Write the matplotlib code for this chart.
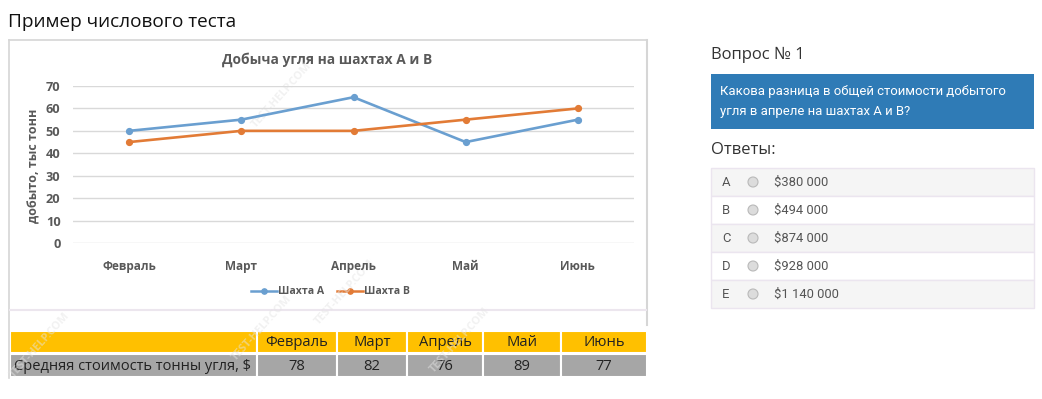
import matplotlib.pyplot as plt
from matplotlib.patches import Rectangle, Circle
from matplotlib.lines import Line2D

# data
months = ["Февраль", "Март", "Апрель", "Май", "Июнь"]
mine_a = [50, 55, 65, 45, 55]
mine_b = [45, 50, 50, 55, 60]
price_per_ton = [78, 82, 76, 89, 77]
answer_letters = ["A", "B", "C", "D", "E"]
answer_values = ["$380 000", "$494 000", "$874 000", "$928 000", "$1 140 000"]

FONT = ["Open Sans", "DejaVu Sans"]
ROBOTO = ["Roboto", "DejaVu Sans"]
COL_A = "#6a9fd0"
COL_B = "#e27b36"
W, H = 1042, 399

fig = plt.figure(figsize=(W / 100, H / 100), dpi=100)
fig.patch.set_facecolor("white")

# background axes in pixel coordinates
bg = fig.add_axes([0, 0, 1, 1], zorder=0)
bg.set_xlim(0, W)
bg.set_ylim(H, 0)
bg.axis("off")

bg.text(8, 22, "Пример числового теста", fontsize=13.7, family=FONT,
        color="#111111", va="center", ha="left")

# chart frame
frame = "#d6d6d6"
bg.add_line(Line2D([9, 647], [40, 40], color=frame, lw=1.2))
bg.add_line(Line2D([9, 9], [40, 378], color=frame, lw=1.2))
bg.add_line(Line2D([647, 647], [40, 325], color=frame, lw=1.5))
bg.add_line(Line2D([10, 646], [310, 310], color="#ece6ee", lw=1.5))

bg.text(327, 60, "Добыча угля на шахтах А и В", fontsize=9.9, family=FONT,
        fontweight="bold", color="#595959", ha="center", va="center")

# legend
bg.add_line(Line2D([251, 277], [291, 291], color=COL_A, lw=1.8))
bg.plot([264], [291], "o", color=COL_A, markersize=3.8)
bg.text(278, 291, "Шахта А", fontsize=7.6, family=FONT, fontweight="bold",
        color="#595959", va="center")
bg.add_line(Line2D([337, 363], [291, 291], color=COL_B, lw=1.8))
bg.plot([350], [291], "o", color=COL_B, markersize=3.8)
bg.text(364, 291, "Шахта В", fontsize=7.6, family=FONT, fontweight="bold",
        color="#595959", va="center")

# table under the chart
col_edges = [10, 257, 337, 407, 483, 561, 647]
for i in range(6):
    x0, x1 = col_edges[i], col_edges[i + 1]
    bg.add_patch(Rectangle((x0, 331), x1 - x0, 22, facecolor="#ffc000",
                           edgecolor="white", lw=1.5))
    bg.add_patch(Rectangle((x0, 354), x1 - x0, 23, facecolor="#a6a6a6",
                           edgecolor="white", lw=1.5))
for i, m in enumerate(months):
    cx = (col_edges[i + 1] + col_edges[i + 2]) / 2
    bg.text(cx, 342.5, m, fontsize=10.6, family=FONT, color="#222222",
            ha="center", va="center")
    bg.text(cx, 366, str(price_per_ton[i]), fontsize=10.6, family=FONT,
            color="#222222", ha="center", va="center")
bg.text(14, 366, "Средняя стоимость тонны угля, $", fontsize=10.5,
        family=FONT, color="#222222", ha="left", va="center")

# faint watermarks
for (wx, wy) in [(282, 95), (262, 328), (345, 292), (40, 345), (460, 340)]:
    bg.text(wx, wy, "TEST-HELP.COM", fontsize=8, family=FONT,
            fontweight="bold", color="#e4e4e4", alpha=0.5, rotation=48,
            ha="center", va="center", zorder=5)

# right panel
bg.text(711, 55, "Вопрос № 1", fontsize=12, family=FONT, color="#333333",
        va="center")
bg.add_patch(Rectangle((711, 74), 323, 55, facecolor="#2f7bb6",
                       edgecolor="none"))
bg.text(720, 92, "Какова разница в общей стоимости добытого", fontsize=9.45,
        family=ROBOTO, color="white", va="center")
bg.text(720, 111, "угля в апреле на шахтах А и В?", fontsize=9.45,
        family=ROBOTO, color="white", va="center")
bg.text(711, 150, "Ответы:", fontsize=12, family=FONT, color="#333333",
        va="center")

for i, (letter, val) in enumerate(zip(answer_letters, answer_values)):
    y0 = 168 + i * 28
    fc = "#f5f5f5" if i % 2 == 0 else "white"
    bg.add_patch(Rectangle((711, y0), 323, 28, facecolor=fc,
                           edgecolor="#ebe5ef", lw=1))
    yc = y0 + 14
    bg.text(722, yc, letter, fontsize=9.4, family=ROBOTO,
            color="#555555", va="center")
    bg.add_patch(Circle((753, yc), 5, facecolor="#dcdcdc",
                        edgecolor="#b9b9b9", lw=0.8))
    bg.text(774, yc, val, fontsize=9.4, family=ROBOTO,
            color="#555555", va="center")

# line chart
ax = fig.add_axes([73 / W, (H - 243) / H, 561 / W, 157 / H], zorder=2)
ax.patch.set_alpha(0)
x = list(range(len(months)))
ax.plot(x, mine_a, color=COL_A, lw=1.9, marker="o", markersize=4.2,
        clip_on=False)
ax.plot(x, mine_b, color=COL_B, lw=1.9, marker="o", markersize=4.2,
        clip_on=False)
ax.set_xlim(-0.5, len(months) - 0.5)
ax.set_ylim(0, 70)
ax.set_yticks(range(0, 71, 10))
ax.set_xticks(x)
ax.set_xticklabels(months)
ax.grid(axis="y", color="#d9d9d9", lw=1)
ax.set_axisbelow(True)
for s in ax.spines.values():
    s.set_visible(False)
ax.tick_params(axis="y", length=0, pad=9, labelsize=9.2, labelcolor="#595959")
ax.tick_params(axis="x", length=0, pad=12, labelsize=8.5, labelcolor="#595959")
for lab in ax.get_xticklabels() + ax.get_yticklabels():
    lab.set_fontweight("bold")
    lab.set_family(FONT)
ax.set_ylabel("добыто, тыс тонн", fontsize=9, fontweight="bold",
              color="#595959", family=FONT)
ax.yaxis.set_label_coords(-0.058, 0.49)

fig.savefig("out.png", dpi=100)
